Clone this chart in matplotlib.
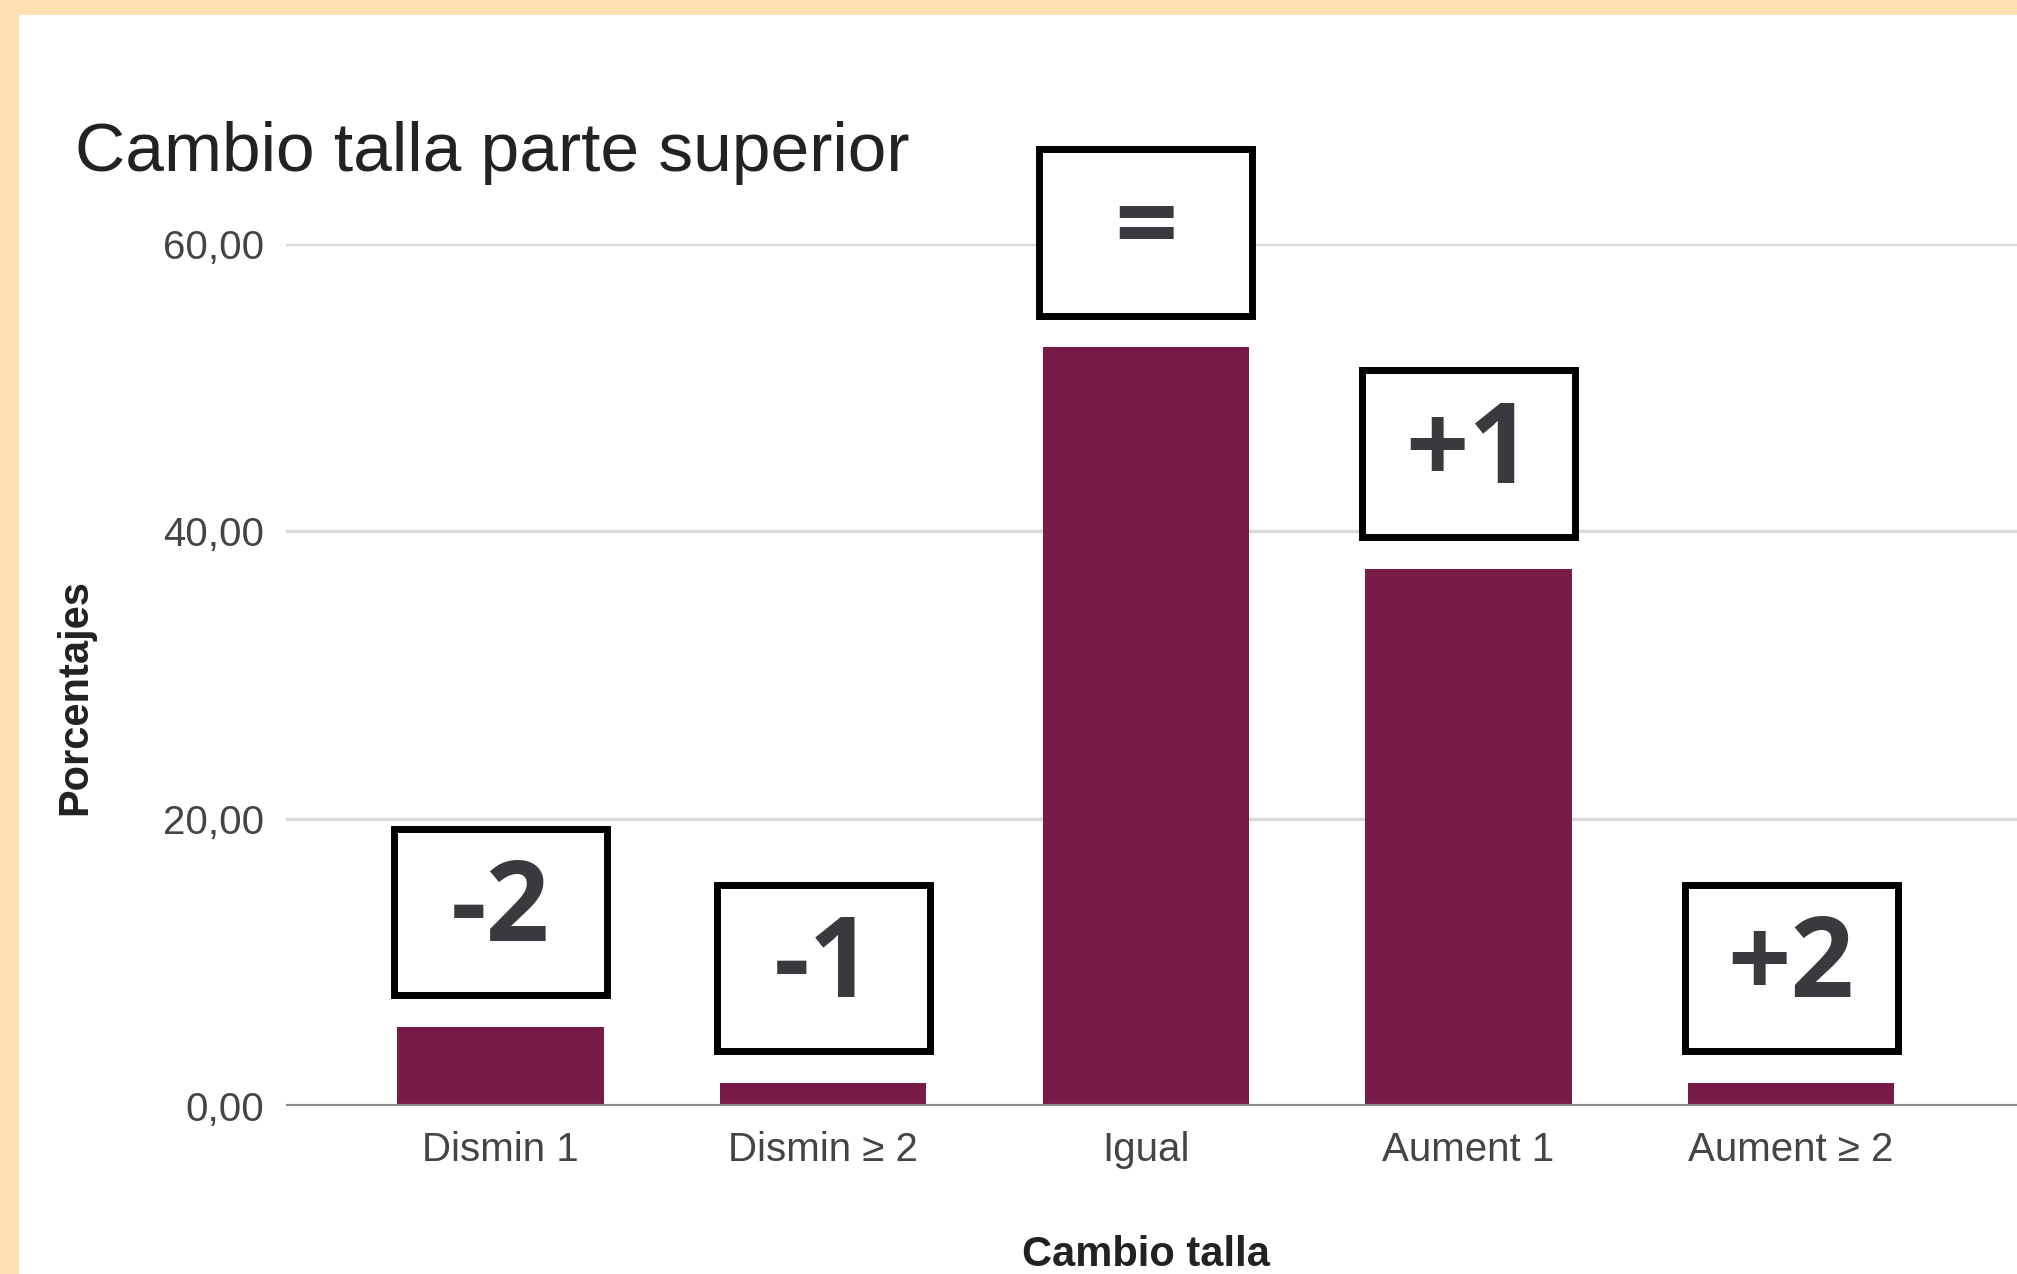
import matplotlib
matplotlib.use("Agg")
import matplotlib.pyplot as plt
from matplotlib.patches import Rectangle

# data
categories = ["Dismin 1", "Dismin \u2265 2", "Igual", "Aument 1", "Aument \u2265 2"]
percentages = [5.5, 1.6, 52.8, 37.4, 1.6]
box_labels = ["-2", "-1", "=", "+1", "+2"]
y_ticks = [0, 20, 40, 60]
y_tick_labels = ["0,00", "20,00", "40,00", "60,00"]

W, H = 2017, 1274
plt.rcParams['font.family'] = ['Liberation Sans', 'DejaVu Sans']

fig = plt.figure(figsize=(W / 100, H / 100), dpi=100)
fig.patch.set_facecolor("#FFE0B2")
# white card behind everything
fig.patches.append(Rectangle((19 / W, 0), 1 - 19 / W, 1 - 15 / H,
                             transform=fig.transFigure, facecolor="white",
                             edgecolor="none", zorder=-10))

ax = fig.add_axes([286 / W, 1 - 1106 / H, 1 - 286 / W, (1106 - 244) / H])
ax.set_facecolor("none")

x = list(range(len(categories)))
ax.bar(x, percentages, width=0.64, color="#761c46", zorder=3)

ax.set_xlim(-0.665, 4.70)
ax.set_ylim(0, 60)
ax.set_yticks(y_ticks)
ax.set_yticklabels(y_tick_labels)
ax.set_xticks(x)
ax.set_xticklabels(categories)
ax.tick_params(axis="both", length=0, labelsize=29, colors="#444444")
ax.tick_params(axis="x", pad=18)
ax.tick_params(axis="y", pad=16)

ax.grid(axis="y", color="#d9d9d9", linewidth=2.5, zorder=1)
ax.axhline(0, color="#8a8a8a", linewidth=3, zorder=4)
for s in ax.spines.values():
    s.set_visible(False)

ax.set_xlabel("Cambio talla", fontsize=30, fontweight="bold", color="#222222")
ax.set_ylabel("Porcentajes", fontsize=30, fontweight="bold", color="#222222")
ax.xaxis.set_label_coords(0.497, -0.150)
ax.yaxis.set_label_coords(-0.110, 0.475)

# boxed annotations above each bar
box_w, box_h, gap = 0.66, 11.6, 2.2
for xi, val, lab in zip(x, percentages, box_labels):
    y0 = val + gap
    ax.add_patch(Rectangle((xi - box_w / 2, y0), box_w, box_h, facecolor="white",
                           edgecolor="black", linewidth=5, zorder=5, clip_on=False))
    ax.text(xi, y0 + box_h / 2, lab, ha="center", va="center", fontsize=80,
            fontweight="bold", family=["Open Sans", "DejaVu Sans"], color="#3a393e",
            zorder=6, clip_on=False)

fig.text(75 / W, 1 - 171 / H, "Cambio talla parte superior", fontsize=50,
         color="#222222", ha="left", va="baseline")

fig.savefig("out.png", dpi=100, facecolor=fig.get_facecolor())
